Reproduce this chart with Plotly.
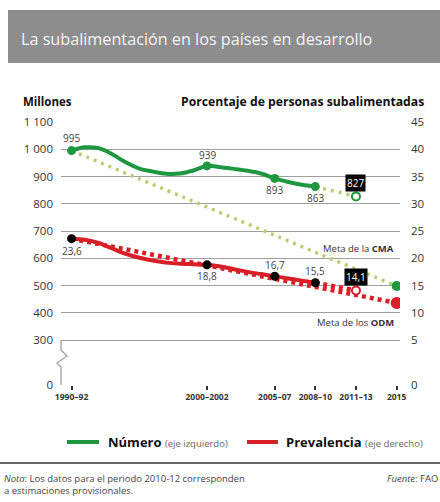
import plotly.graph_objects as go

# ---------------- data ----------------
years = [1991, 1992, 1993, 1994, 1995, 1996, 1997, 1998, 1999, 2000,
         2001, 2002, 2003, 2004, 2005, 2006, 2007, 2008, 2009]
numero = [995, 1007, 1004, 982, 952, 929, 918, 910, 911, 922,
          939, 934, 928, 921, 911, 893, 880, 870, 863]
prevalencia = [23.6, 23.4, 22.8, 21.8, 20.8, 20.1, 19.6, 19.2, 19.0, 18.9,
               18.8, 18.5, 18.0, 17.5, 17.1, 16.7, 16.3, 15.9, 15.5]

key_years = [1991, 2001, 2006, 2009]
numero_key = [995, 939, 893, 863]
prev_key = [23.6, 18.8, 16.7, 15.5]
numero_key_text = ["995", "939", "893", "863"]
prev_key_text = ["23,6", "18,8", "16,7", "15,5"]

prov_year = 2012
numero_prov = 827
prev_prov = 14.1
numero_prov_text = "827"
prev_prov_text = "14,1"

target_year = 2015
cma_start, cma_target = 995, 498
odm_start, odm_target = 23.6, 11.8

x_tick_years = [1991, 2001, 2006, 2009, 2012, 2015]
x_tick_labels = ["1990–92", "2000–2002", "2005–07", "2008–10", "2011–13", "2015"]

left_tick_vals = [300, 400, 500, 600, 700, 800, 900, 1000, 1100]
left_tick_text = ["300", "400", "500", "600", "700", "800", "900", "1 000", "1 100"]
right_tick_vals = [5, 10, 15, 20, 25, 30, 35, 40, 45]
right_tick_text = ["5", "10", "15", "20", "25", "30", "35", "40", "45"]

# ---------------- styles ----------------
FONT = "Open Sans"
GREEN = "#1f9640"
LIGHT_GREEN = "#b7cf72"
RED = "#d81e26"
GRID = "#9e9e9e"
TXT = "#333333"

# broken axis: zero is drawn at this display position on the left scale
ZERO_LEFT = 135
Y_TOP = 1100

ZERO_RIGHT = (ZERO_LEFT - 200) / 20
R_TOP = (Y_TOP - 200) / 20

W, H = 440, 502
ML, MR, MT, MB = 61, 40, 122, 117
PW, PH = W - ML - MR, H - MT - MB


def px(xp):
    return (xp - ML) / PW


def py(yp):
    return (H - MB - yp) / PH


fig = go.Figure()

# target (dotted) lines
fig.add_trace(go.Scatter(x=[key_years[0], target_year], y=[cma_start, cma_target],
                         mode="lines", line=dict(color=LIGHT_GREEN, width=3.5, dash="3px,5px"),
                         showlegend=False, hoverinfo="skip"))
fig.add_trace(go.Scatter(x=[key_years[-1], prov_year], y=[numero_key[-1], numero_prov],
                         mode="lines", line=dict(color=LIGHT_GREEN, width=3.5, dash="3px,5px"),
                         showlegend=False, hoverinfo="skip"))
fig.add_trace(go.Scatter(x=[key_years[0], target_year], y=[odm_start, odm_target], yaxis="y2",
                         mode="lines", line=dict(color=RED, width=4.5, dash="4px,4px"),
                         showlegend=False, hoverinfo="skip"))
fig.add_trace(go.Scatter(x=[key_years[-1], prov_year], y=[prev_key[-1], prev_prov], yaxis="y2",
                         mode="lines", line=dict(color=RED, width=4.5, dash="4px,4px"),
                         showlegend=False, hoverinfo="skip"))

# main lines
fig.add_trace(go.Scatter(x=years, y=numero, mode="lines", name="Número",
                         line=dict(color=GREEN, width=4, shape="spline", smoothing=1),
                         showlegend=False))
fig.add_trace(go.Scatter(x=years, y=prevalencia, mode="lines", name="Prevalencia", yaxis="y2",
                         line=dict(color=RED, width=4, shape="spline", smoothing=1),
                         showlegend=False))

# key markers
fig.add_trace(go.Scatter(x=key_years, y=numero_key, mode="markers",
                         marker=dict(color=GREEN, size=9), showlegend=False))
fig.add_trace(go.Scatter(x=key_years, y=prev_key, mode="markers", yaxis="y2",
                         marker=dict(color="#000000", size=9), showlegend=False))
# provisional (open) markers
fig.add_trace(go.Scatter(x=[prov_year], y=[numero_prov], mode="markers",
                         marker=dict(color="white", size=8, line=dict(color=GREEN, width=2)),
                         showlegend=False))
fig.add_trace(go.Scatter(x=[prov_year], y=[prev_prov], mode="markers", yaxis="y2",
                         marker=dict(color="white", size=8, line=dict(color=RED, width=2)),
                         showlegend=False))
# targets
fig.add_trace(go.Scatter(x=[target_year], y=[cma_target], mode="markers",
                         marker=dict(color=GREEN, size=10), showlegend=False))
fig.add_trace(go.Scatter(x=[target_year], y=[odm_target], mode="markers", yaxis="y2",
                         marker=dict(color=RED, size=12), showlegend=False))

annotations = []
num_shifts = [13, 11, -12, -11]
prev_shifts = [-12, -11, 11, 12]
for xv, yv, t, s in zip(key_years, numero_key, numero_key_text, num_shifts):
    annotations.append(dict(x=xv, y=yv, xref="x", yref="y", text=t, showarrow=False,
                            yshift=s, font=dict(family=FONT, size=10, color="#444")))
for xv, yv, t, s in zip(key_years, prev_key, prev_key_text, prev_shifts):
    annotations.append(dict(x=xv, y=yv, xref="x", yref="y2", text=t, showarrow=False,
                            yshift=s, font=dict(family=FONT, size=10, color="#444")))
annotations.append(dict(x=prov_year, y=numero_prov, xref="x", yref="y", text=numero_prov_text,
                        showarrow=False, yshift=13, bgcolor="#000", borderpad=1,
                        font=dict(family=FONT, size=10, color="white")))
annotations.append(dict(x=prov_year, y=prev_prov, xref="x", yref="y2", text=prev_prov_text,
                        showarrow=False, yshift=13, bgcolor="#000", borderpad=1,
                        font=dict(family=FONT, size=10, color="white")))

# target labels
annotations.append(dict(x=px(396), y=py(248), xref="paper", yref="paper", xanchor="right",
                        yanchor="middle", showarrow=False, text="Meta de la <b>CMA</b>",
                        font=dict(family=FONT, size=9.5, color="#333")))
annotations.append(dict(x=px(396), y=py(322), xref="paper", yref="paper", xanchor="right",
                        yanchor="middle", showarrow=False, text="Meta de los <b>ODM</b>",
                        font=dict(family=FONT, size=9.5, color="#333")))

# title and axis titles
annotations.append(dict(x=px(19), y=py(39), xref="paper", yref="paper", xanchor="left",
                        yanchor="middle", showarrow=False,
                        text="La subalimentación en los países en desarrollo",
                        font=dict(family=FONT, size=16.2, color="#f4f4f4")))
annotations.append(dict(x=px(21), y=py(101), xref="paper", yref="paper", xanchor="left",
                        yanchor="middle", showarrow=False, text="<b>Millones</b>",
                        font=dict(family=FONT, size=11.5, color="#111")))
annotations.append(dict(x=px(426), y=py(101), xref="paper", yref="paper", xanchor="right",
                        yanchor="middle", showarrow=False,
                        text="<b>Porcentaje de personas subalimentadas</b>",
                        font=dict(family=FONT, size=12.2, color="#111")))

# legend
annotations.append(dict(x=px(106), y=py(442), xref="paper", yref="paper", xanchor="left",
                        yanchor="middle", showarrow=False,
                        text="<b>Número</b> <span style='font-size:9.5px;color:#666'>(eje izquierdo)</span>",
                        font=dict(family=FONT, size=13, color="#111")))
annotations.append(dict(x=px(284), y=py(442), xref="paper", yref="paper", xanchor="left",
                        yanchor="middle", showarrow=False,
                        text="<b>Prevalencia</b> <span style='font-size:9.5px;color:#666'>(eje derecho)</span>",
                        font=dict(family=FONT, size=13, color="#111")))

# footnotes
annotations.append(dict(x=px(2), y=py(478), xref="paper", yref="paper", xanchor="left",
                        yanchor="middle", showarrow=False,
                        text="<i>Nota</i>: Los datos para el periodo 2010-12 corresponden",
                        font=dict(family=FONT, size=9.5, color="#444")))
annotations.append(dict(x=px(2), y=py(490), xref="paper", yref="paper", xanchor="left",
                        yanchor="middle", showarrow=False,
                        text="a estimaciones provisionales.",
                        font=dict(family=FONT, size=9.5, color="#444")))
annotations.append(dict(x=px(440), y=py(478), xref="paper", yref="paper", xanchor="right",
                        yanchor="middle", showarrow=False,
                        text="<i>Fuente</i>: FAO",
                        font=dict(family=FONT, size=9.5, color="#444")))

shapes = [
    # title band
    dict(type="rect", xref="paper", yref="paper", x0=px(8), x1=px(441), y0=py(63), y1=py(10),
         fillcolor="#8d8d8d", line=dict(width=0), layer="below"),
    # broken axis zigzag
    dict(type="path", xref="paper", yref="y",
         path=f"M {px(61)},300 L {px(61)},{300 - 10 / 0.2725} L {px(67)},{300 - 16 / 0.2725} "
              f"L {px(57)},{300 - 23 / 0.2725} L {px(61)},{300 - 27 / 0.2725} L {px(61)},{ZERO_LEFT}",
         line=dict(color=GRID, width=1.3)),
    # legend swatches
    dict(type="line", xref="paper", yref="paper", x0=px(67), x1=px(99), y0=py(442), y1=py(442),
         line=dict(color=GREEN, width=4)),
    dict(type="line", xref="paper", yref="paper", x0=px(247), x1=px(278), y0=py(442), y1=py(442),
         line=dict(color=RED, width=4)),
    # footer rule
    dict(type="line", xref="paper", yref="paper", x0=px(0), x1=px(441), y0=py(463), y1=py(463),
         line=dict(color="#333", width=1.3)),
]

fig.update_layout(
    width=W, height=H,
    margin=dict(l=ML, r=MR, t=MT, b=MB),
    paper_bgcolor="white", plot_bgcolor="white",
    font=dict(family=FONT, color=TXT),
    showlegend=False,
    xaxis=dict(range=[1990.22, 2015.25], tickvals=x_tick_years,
               ticktext=[f"<b>{t}</b>" for t in x_tick_labels],
               tickfont=dict(family=FONT, size=8.5, color="#333"),
               ticks="outside", ticklen=4, tickwidth=2, tickcolor="#333",
               showgrid=False, zeroline=False, showline=False, fixedrange=True),
    yaxis=dict(range=[ZERO_LEFT, Y_TOP], tickvals=[ZERO_LEFT] + left_tick_vals,
               ticktext=["0"] + left_tick_text, showgrid=True, gridcolor=GRID, gridwidth=1.2,
               zeroline=False, showline=False, ticks="", ticklabelstandoff=7,
               tickfont=dict(family=FONT, size=11.5, color="#333")),
    yaxis2=dict(range=[ZERO_RIGHT, R_TOP], overlaying="y", side="right",
                tickvals=[ZERO_RIGHT] + right_tick_vals, ticktext=["0"] + right_tick_text,
                showgrid=False, zeroline=False, showline=False, ticks="", ticklabelstandoff=10,
                tickfont=dict(family=FONT, size=11.5, color="#333")),
    annotations=annotations,
    shapes=shapes,
)

fig.write_html("out.html", config={"displayModeBar": False},
               post_script="document.body.style.margin='0';document.body.style.overflow='hidden';")
